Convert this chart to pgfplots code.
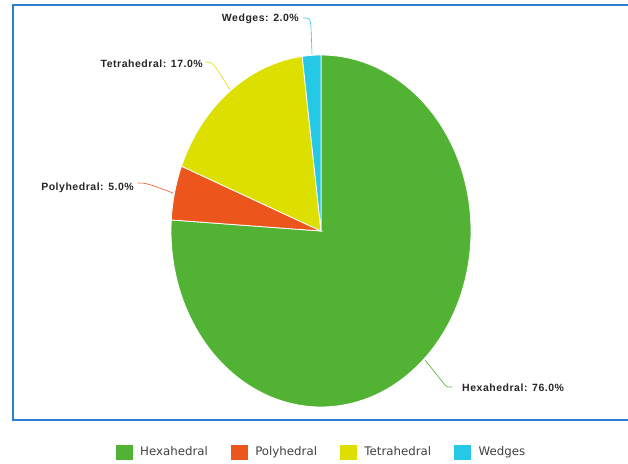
\documentclass[border=0pt]{standalone}
\usepackage{pgfplots}
\pgfplotsset{compat=1.18}
\usepackage{fontspec}
\setmainfont{Liberation Sans}
\newfontfamily\legfont{DejaVu Sans}
\newfontfamily\labfont[LetterSpace=5]{Liberation Sans}
\definecolor{hexa}{HTML}{52B234}
\definecolor{poly}{HTML}{EC561D}
\definecolor{tetra}{HTML}{DCDF00}
\definecolor{wedge}{HTML}{26C9E5}
\definecolor{framec}{HTML}{2B7FD3}

% one pie slice: #1 cumulative share before it (%), #2 its share (%), #3 colour, #4 name
\newcommand{\slice}[4]{%
  \pgfmathsetmacro\aS{90-3.6*(#1+#2)}%
  \pgfmathsetmacro\aE{90-3.6*#1}%
  \addplot[fill=#3, draw=white, line width=0.8pt, domain=\aS:\aE, samples=120]
    ({321+150*cos(x)},{232+176*sin(x)}) -- (axis cs:321,232) -- cycle;
  \addlegendentry{#4}
}

\begin{document}
\begin{tikzpicture}
\begin{axis}[
  width=628pt, height=463pt, scale only axis,
  xmin=0, xmax=628, ymin=0, ymax=463,
  axis line style={draw=none}, xtick=\empty, ytick=\empty,
  clip=true,
  legend image code/.code={\fill[#1,draw=none] (0pt,-7.5pt) rectangle (17pt,7.5pt); \path (21pt,0pt);},
  legend style={at={(axis cs:322,11)}, anchor=center, draw=none, fill=none,
    legend columns=4, font=\legfont\fontsize{11.8}{13}\selectfont,
    text=black!75, /tikz/every even column/.append style={column sep=20pt},
    nodes={inner sep=3pt}},
]
\draw[framec, line width=2pt] (axis cs:640,458) -- (axis cs:13,458) -- (axis cs:13,43) -- (axis cs:640,43);

\slice{0}{76}{hexa}{Hexahedral}
\slice{76}{5}{poly}{Polyhedral}
\slice{81}{17}{tetra}{Tetrahedral}
\slice{98}{2}{wedge}{Wedges}

% leader lines
\draw[wedge, line width=0.6pt] (axis cs:303,445) .. controls (axis cs:310,445) .. (axis cs:311,436) -- (axis cs:312,409);
\draw[tetra, line width=0.6pt] (axis cs:205,401) .. controls (axis cs:213,401) .. (axis cs:230,373);
\draw[poly, line width=0.6pt] (axis cs:138,280) .. controls (axis cs:146,280) .. (axis cs:173,270);
\draw[hexa, line width=0.6pt] (axis cs:425,103) -- (axis cs:445,78) .. controls (axis cs:447,76) .. (axis cs:452,76);

\begin{scope}[every node/.style={font=\labfont\bfseries\fontsize{10.5}{12}\selectfont, inner sep=0pt, text=black!85}]
\node[anchor=east] at (axis cs:299,444) {Wedges: 2.0\%};
\node[anchor=east] at (axis cs:203,399) {Tetrahedral: 17.0\%};
\node[anchor=east] at (axis cs:134,275) {Polyhedral: 5.0\%};
\node[anchor=west] at (axis cs:462,75) {Hexahedral: 76.0\%};
\end{scope}
\end{axis}
\end{tikzpicture}
\end{document}
